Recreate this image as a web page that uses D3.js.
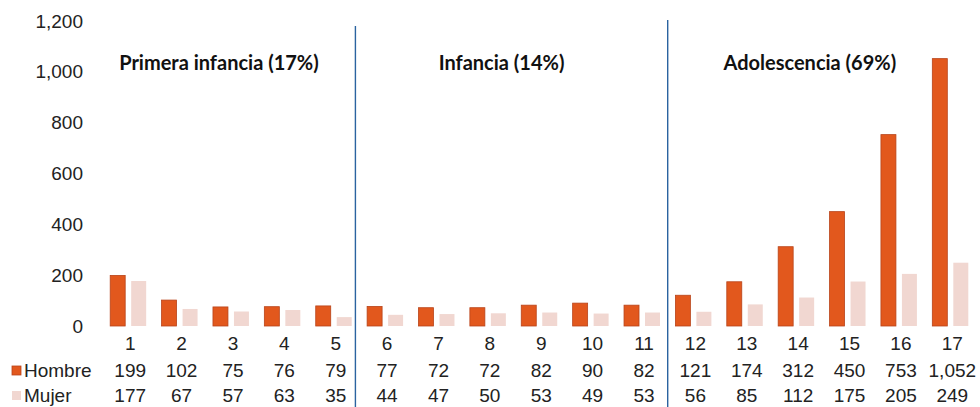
<!DOCTYPE html>
<html>
<head>
<meta charset="utf-8">
<script src="https://cdn.jsdelivr.net/npm/d3@7"></script>
<style>
  body { margin: 0; background: #fff; }
  text { font-family: "Liberation Sans", Arial, sans-serif; fill: #222; }
  .title { font-family: Lato, "Open Sans", sans-serif; font-weight: bold; fill: #111; }
</style>
</head>
<body>
<div id="chart"></div>
<script>
// Data ----------------------------------------------
const edades = ["1","2","3","4","5","6","7","8","9","10","11","12","13","14","15","16","17"];
const series = ["Hombre", "Mujer"];
const hombre = [199,102,75,76,79,77,72,72,82,90,82,121,174,312,450,753,1052];
const mujer  = [177,67,57,63,35,44,47,50,53,49,53,56,85,112,175,205,249];
const yTicks = [0,200,400,600,800,1000,1200];
const grupos = [
  {label: "Primera infancia (17%)", from: "1", to: "5"},
  {label: "Infancia (14%)", from: "6", to: "11"},
  {label: "Adolescencia (69%)", from: "12", to: "17"}
];

var width = 980, height = 407;
var colors = {Hombre: "#e2581d", Mujer: "#f1d7d1"};
var strokes = {Hombre: "#b8441a", Mujer: "none"};

var svg = d3.select("#chart").append("svg")
    .attr("width", width)
    .attr("height", height);

// Scales
var x = d3.scaleBand().domain(edades).range([102.5, 976]);
var xs = d3.scaleBand().domain(series).range([0, x.bandwidth()])
    .paddingInner(0.286).paddingOuter(0.367);
var y = d3.scaleLinear().domain([0, 1200]).range([326, 21]);

// Y axis labels (no line)
svg.append("g").selectAll("text")
    .data(yTicks)
    .join("text")
    .attr("x", 83)
    .attr("y", d => y(d))
    .attr("dy", "0.35em")
    .attr("text-anchor", "end")
    .style("font-size", "19px")
    .text(d => d3.format(",")(d));

// Bars
var rows = edades.map((e, i) => ({edad: e, Hombre: hombre[i], Mujer: mujer[i]}));
var grp = svg.append("g").selectAll("g")
    .data(rows)
    .join("g")
    .attr("transform", d => `translate(${x(d.edad)},0)`);
grp.selectAll("rect")
    .data(d => series.map(s => ({s: s, v: d[s]})))
    .join("rect")
    .attr("x", d => xs(d.s))
    .attr("width", xs.bandwidth())
    .attr("y", d => y(d.v))
    .attr("height", d => y(0) - y(d.v))
    .attr("fill", d => colors[d.s])
    .attr("stroke", d => strokes[d.s])
    .attr("stroke-width", 0.8);

// Category labels
svg.append("g").selectAll("text")
    .data(edades)
    .join("text")
    .attr("x", d => x(d) + x.bandwidth() / 2 + 2)
    .attr("y", 350)
    .attr("text-anchor", "middle")
    .style("font-size", "19px")
    .text(d => d);

// Data table
var rowY = {Hombre: 377, Mujer: 402};
series.forEach((s, si) => {
    var vals = si === 0 ? hombre : mujer;
    svg.append("g").selectAll("text")
        .data(vals)
        .join("text")
        .attr("x", (d, i) => x(edades[i]) + x.bandwidth() / 2 + 2)
        .attr("y", rowY[s])
        .attr("text-anchor", "middle")
        .style("font-size", "19px")
        .text(d => d3.format(",")(d));
    // legend key
    svg.append("rect")
        .attr("x", 12)
        .attr("y", rowY[s] - 11)
        .attr("width", 9)
        .attr("height", 9)
        .attr("fill", colors[s])
        .attr("stroke", strokes[s])
        .attr("stroke-width", 0.8);
    svg.append("text")
        .attr("x", 24)
        .attr("y", rowY[s])
        .style("font-size", "19px")
        .text(s);
});

// Separators between groups
[ "6", "12" ].forEach((e, i) => {
    svg.append("line")
        .attr("x1", x(e) - (i === 0 ? 4 : 0))
        .attr("x2", x(e) - (i === 0 ? 4 : 0))
        .attr("y1", i === 0 ? 26 : 20)
        .attr("y2", height)
        .attr("stroke", "#2b63a0")
        .attr("stroke-width", 1.4);
});

// Group titles
svg.append("g").selectAll("text")
    .data(grupos)
    .join("text")
    .attr("class", "title")
    .attr("x", d => (x(d.from) + x(d.to) + x.bandwidth()) / 2 - 12)
    .attr("y", 70)
    .attr("text-anchor", "middle")
    .style("font-size", "20px")
    .text(d => d.label);
</script>
</body>
</html>
